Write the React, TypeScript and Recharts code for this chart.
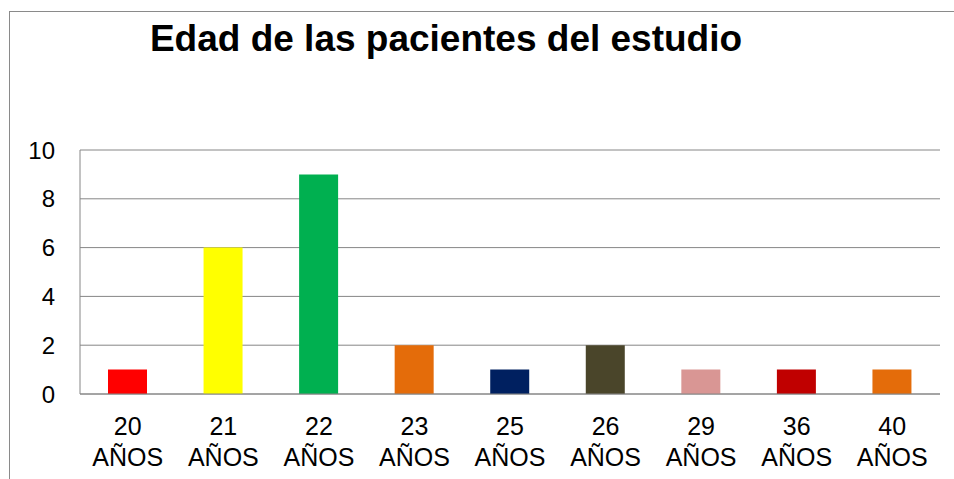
import React from 'react';
import { BarChart, Bar, XAxis, YAxis, CartesianGrid, Cell } from 'recharts';

const title = 'Edad de las pacientes del estudio';
const categories = ['20', '21', '22', '23', '25', '26', '29', '36', '40'];
const unitLabel = 'AÑOS';
const values = [1, 6, 9, 2, 1, 2, 1, 1, 1];
const barColors = ['#FF0000', '#FFFF00', '#00B050', '#E46C0A', '#002060', '#4A452A', '#D99694', '#C00000', '#E46C0A'];
const yTicks = [0, 2, 4, 6, 8, 10];

const data = categories.map((c, i) => ({ name: c, value: values[i] }));

const FONT = '"Liberation Sans", Arial, sans-serif';

const XTick = (props: any) => {
  const { x, y, payload } = props;
  return (
    <g transform={`translate(${x},${y})`}>
      <text textAnchor="middle" fill="#000" fontSize={25} fontFamily={FONT}>
        <tspan x={0} dy={41}>{payload.value}</tspan>
        <tspan x={0} dy={31}>{unitLabel}</tspan>
      </text>
    </g>
  );
};

export default function App() {
  return (
    <div style={{ position: 'absolute', left: 0, top: 0, width: 954, height: 479, background: '#fff', overflow: 'hidden' }}>
      <div style={{ position: 'absolute', left: 9, top: 11, width: 960, height: 480, borderLeft: '1px solid #8a8a8a', borderTop: '1px solid #8a8a8a' }} />
      <svg width={954} height={80} style={{ position: 'absolute', left: 0, top: 0 }}>
        <text x={446} y={51} textAnchor="middle" fontFamily={FONT} fontWeight="bold" fontSize={37} fill="#000">{title}</text>
      </svg>
      <div style={{ position: 'absolute', left: 0, top: 0 }}>
        <BarChart width={954} height={479} data={data} margin={{ top: 150, right: 14, bottom: 0, left: 0 }}>
          <CartesianGrid vertical={false} stroke="#868686" strokeWidth={1} />
          <XAxis dataKey="name" height={85} axisLine={{ stroke: '#868686' }} tickLine={false} tickSize={0} tickMargin={0} tick={<XTick />} interval={0} />
          <YAxis
            width={80}
            domain={[0, 10]}
            ticks={yTicks}
            axisLine={{ stroke: '#868686' }}
            tickLine={false}
            tickSize={0}
            tickMargin={25}
            tick={{ fill: '#000', fontSize: 24, fontFamily: FONT }}
          />
          <Bar dataKey="value" barSize={39} isAnimationActive={false}>
            {data.map((d, i) => (
              <Cell key={d.name} fill={barColors[i]} />
            ))}
          </Bar>
        </BarChart>
      </div>
    </div>
  );
}
